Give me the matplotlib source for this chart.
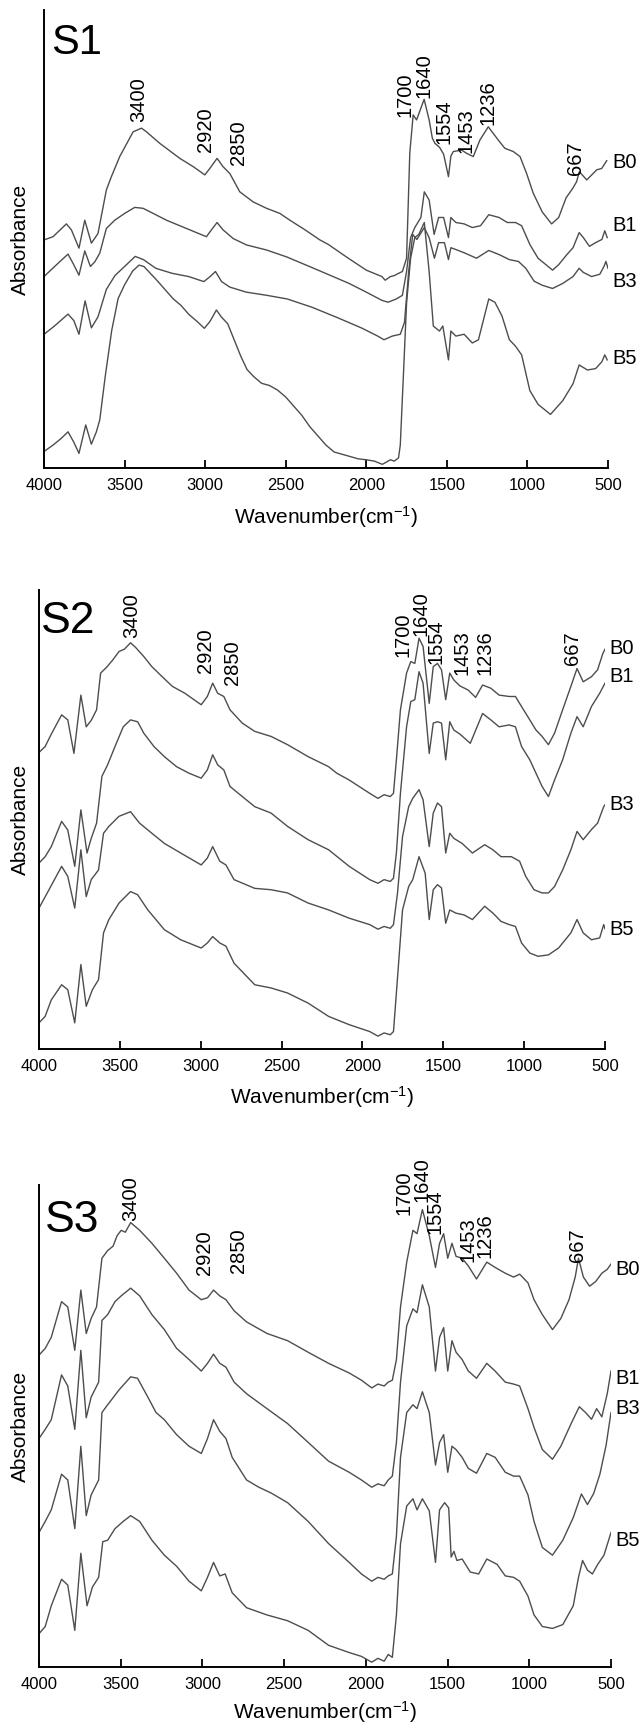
import matplotlib
matplotlib.use('Agg')
import matplotlib.pyplot as plt
from matplotlib.transforms import blended_transform_factory

plt.rcParams['font.family'] = ['Liberation Sans', 'DejaVu Sans']
plt.rcParams['mathtext.fontset'] = 'custom'
plt.rcParams['mathtext.rm'] = 'Liberation Sans'
plt.rcParams['mathtext.it'] = 'Liberation Sans:italic'
plt.rcParams['mathtext.bf'] = 'Liberation Sans:bold'

# ---------------- data ----------------
x_ticks = [4000, 3500, 3000, 2500, 2000, 1500, 1000, 500]
series_names = ['B0', 'B1', 'B3', 'B5']
panel_names = ['S1', 'S2', 'S3']
peak_labels = ['3400', '2920', '2850', '1700', '1640', '1554', '1453', '1236', '667']

# (wavenumber, absorbance a.u.)
S1_B0 = [(4000,0.498),(3944,0.505),(3861,0.533),(3830,0.520),(3783,0.480),(3747,0.541),(3706,0.491),(3665,0.512),
         (3613,0.607),(3582,0.636),(3530,0.680),(3447,0.734),(3395,0.742),(3364,0.734),(3282,0.709),(3157,0.676),
         (3074,0.658),(3002,0.640),(2971,0.654),(2926,0.676),(2889,0.658),(2847,0.643),(2785,0.603),(2702,0.581),
         (2619,0.567),(2537,0.556),(2474,0.541),(2380,0.520),(2288,0.498),(2235,0.488),(2120,0.460),(2000,0.432),
         (1903,0.418),(1883,0.410),(1850,0.418),(1827,0.420),(1800,0.425),(1776,0.429),(1750,0.458),(1730,0.688),
         (1709,0.771),(1688,0.760),(1641,0.805),(1610,0.760),(1590,0.720),(1574,0.709),(1545,0.700),(1520,0.685),
         (1490,0.636),(1475,0.681),(1460,0.691),(1408,0.694),(1377,0.687),(1336,0.680),(1295,0.716),(1243,0.745),
         (1181,0.716),(1140,0.698),(1088,0.691),(1046,0.680),(1005,0.643),(964,0.600),(908,0.559),(850,0.533),
         (806,0.547),(760,0.590),(720,0.610),(695,0.625),(678,0.647),(632,0.629),(570,0.651),(539,0.654),(508,0.671)]
S1_B1 = [(4000,0.418),(3934,0.440),(3851,0.467),(3820,0.447),(3783,0.421),(3747,0.474),(3712,0.440),(3685,0.450),
         (3654,0.469),(3613,0.523),(3561,0.541),(3499,0.556),(3437,0.569),(3385,0.567),(3323,0.556),(3240,0.541),
         (3116,0.523),(2992,0.505),(2961,0.520),(2926,0.536),(2889,0.520),(2826,0.501),(2743,0.487),(2619,0.476),
         (2495,0.461),(2299,0.432),(2107,0.403),(2000,0.384),(1903,0.366),(1865,0.362),(1814,0.369),(1776,0.377),
         (1750,0.429),(1725,0.503),(1699,0.525),(1661,0.547),(1640,0.603),(1610,0.585),(1579,0.510),(1551,0.547),
         (1520,0.547),(1490,0.503),(1475,0.547),(1444,0.536),(1393,0.533),(1342,0.525),(1291,0.529),(1240,0.553),
         (1176,0.547),(1125,0.536),(1074,0.536),(1036,0.529),(985,0.488),(934,0.458),(844,0.432),(806,0.444),
         (755,0.466),(717,0.481),(679,0.514),(653,0.503),(615,0.484),(577,0.492),(538,0.499),(520,0.518),(505,0.503)]
S1_B3 = [(4000,0.292),(3935,0.310),(3851,0.336),(3815,0.322),(3783,0.292),(3745,0.365),(3706,0.306),(3665,0.330),
         (3613,0.390),(3560,0.420),(3500,0.440),(3434,0.462),(3383,0.455),(3306,0.436),(3204,0.425),(3102,0.418),
         (3008,0.407),(2969,0.418),(2936,0.429),(2898,0.407),(2847,0.395),(2745,0.384),(2617,0.377),(2490,0.369),
         (2337,0.351),(2184,0.329),(2031,0.306),(1929,0.288),(1890,0.280),(1839,0.288),(1789,0.292),(1763,0.318),
         (1737,0.429),(1712,0.510),(1686,0.499),(1640,0.525),(1610,0.503),(1577,0.458),(1551,0.492),(1515,0.492),
         (1490,0.455),(1475,0.481),(1444,0.477),(1393,0.470),(1316,0.458),(1240,0.475),(1176,0.466),(1112,0.455),
         (1056,0.451),(1010,0.436),(959,0.408),(908,0.399),(844,0.392),(781,0.403),(717,0.418),(679,0.436),
         (653,0.427),(602,0.418),(551,0.423),(525,0.440),(513,0.451),(500,0.436)]
S1_B5 = [(4000,0.036),(3944,0.050),(3892,0.065),(3851,0.079),(3816,0.057),(3783,0.032),(3741,0.094),(3706,0.052),
         (3675,0.079),(3654,0.105),(3620,0.200),(3580,0.300),(3540,0.370),(3500,0.400),(3450,0.430),(3410,0.443),
         (3380,0.440),(3340,0.425),(3300,0.410),(3250,0.390),(3200,0.370),(3150,0.355),(3100,0.335),(3050,0.320),
         (3005,0.305),(2970,0.320),(2930,0.345),(2900,0.330),(2860,0.315),(2820,0.280),(2780,0.245),(2740,0.215),
         (2700,0.200),(2650,0.185),(2600,0.180),(2550,0.170),(2500,0.155),(2450,0.135),(2400,0.115),(2350,0.090),
         (2300,0.070),(2250,0.050),(2200,0.035),(2150,0.030),(2100,0.025),(2050,0.020),(2000,0.018),(1950,0.015),
         (1900,0.008),(1880,0.012),(1850,0.018),(1827,0.015),(1800,0.022),(1789,0.050),(1770,0.200),(1750,0.360),
         (1725,0.458),(1699,0.503),(1674,0.510),(1640,0.536),(1610,0.429),(1584,0.310),(1546,0.299),(1525,0.310),
         (1490,0.236),(1475,0.299),(1444,0.288),(1393,0.292),(1342,0.273),(1304,0.280),(1240,0.369),(1202,0.362),
         (1158,0.332),(1112,0.280),(1074,0.266),(1036,0.247),(985,0.169),(934,0.139),(857,0.117),(781,0.147),
         (717,0.184),(679,0.225),(628,0.214),(577,0.217),(538,0.232),(520,0.247),(505,0.236)]

S2_B0 = [(4000,0.646),(3962,0.659),(3924,0.686),(3860,0.728),(3822,0.717),(3784,0.644),(3741,0.771),(3708,0.702),
         (3677,0.716),(3644,0.739),(3619,0.819),(3581,0.832),(3543,0.848),(3505,0.866),(3472,0.871),(3434,0.885),
         (3403,0.875),(3352,0.855),(3302,0.833),(3238,0.811),(3175,0.790),(3098,0.775),(2997,0.750),(2959,0.768),
         (2926,0.797),(2895,0.775),(2857,0.768),(2819,0.739),(2743,0.710),(2666,0.692),(2565,0.681),(2463,0.663),
         (2336,0.637),(2209,0.615),(2159,0.601),(2082,0.586),(1955,0.557),(1904,0.546),(1866,0.554),(1828,0.550),
         (1808,0.557),(1790,0.630),(1765,0.739),(1727,0.819),(1701,0.844),(1676,0.840),(1650,0.895),(1625,0.877),
         (1587,0.753),(1562,0.833),(1536,0.840),(1511,0.826),(1485,0.761),(1460,0.819),(1435,0.804),(1397,0.791),
         (1346,0.782),(1300,0.766),(1257,0.793),(1206,0.786),(1155,0.771),(1092,0.768),(1054,0.768),(1016,0.746),
         (965,0.717),(927,0.695),(889,0.681),(850,0.663),(812,0.688),(762,0.739),(711,0.790),(673,0.829),
         (635,0.800),(584,0.811),(546,0.826),(513,0.862),(500,0.871)]
S2_B1 = [(4000,0.405),(3962,0.419),(3924,0.441),(3860,0.496),(3822,0.477),(3779,0.398),(3741,0.521),(3703,0.427),
         (3677,0.459),(3644,0.492),(3611,0.594),(3576,0.619),(3530,0.659),(3479,0.702),(3434,0.717),(3390,0.713),
         (3352,0.688),(3289,0.659),(3225,0.637),(3149,0.615),(3073,0.601),(2997,0.590),(2959,0.608),(2926,0.641),
         (2895,0.619),(2857,0.608),(2819,0.572),(2743,0.550),(2666,0.528),(2565,0.514),(2463,0.485),(2336,0.456),
         (2209,0.434),(2082,0.398),(1955,0.369),(1904,0.361),(1866,0.369),(1828,0.365),(1808,0.372),(1790,0.427),
         (1765,0.557),(1727,0.702),(1701,0.757),(1676,0.761),(1650,0.822),(1625,0.797),(1587,0.644),(1562,0.710),
         (1536,0.713),(1511,0.710),(1485,0.630),(1460,0.713),(1435,0.695),(1397,0.686),(1333,0.666),(1257,0.731),
         (1206,0.717),(1155,0.702),(1092,0.706),(1054,0.702),(1016,0.659),(965,0.630),(927,0.601),(889,0.572),
         (850,0.550),(812,0.586),(762,0.630),(711,0.688),(673,0.724),(635,0.702),(584,0.746),(533,0.775),(500,0.797)]
S2_B3 = [(4000,0.307),(3949,0.340),(3860,0.398),(3822,0.376),(3779,0.307),(3741,0.434),(3708,0.332),(3677,0.369),
         (3632,0.390),(3601,0.470),(3568,0.485),(3505,0.507),(3434,0.517),(3378,0.492),(3302,0.470),(3225,0.448),
         (3124,0.427),(2997,0.401),(2959,0.416),(2926,0.441),(2882,0.409),(2844,0.401),(2794,0.369),(2666,0.350),
         (2565,0.347),(2463,0.340),(2336,0.318),(2209,0.303),(2082,0.285),(1955,0.271),(1904,0.261),(1866,0.267),
         (1828,0.263),(1808,0.271),(1783,0.340),(1752,0.463),(1714,0.528),(1689,0.546),(1650,0.565),(1625,0.543),
         (1587,0.441),(1562,0.514),(1536,0.536),(1511,0.528),(1485,0.427),(1460,0.470),(1435,0.459),(1384,0.448),
         (1320,0.427),(1244,0.445),(1193,0.434),(1143,0.419),(1079,0.419),(1028,0.409),(990,0.376),(939,0.347),
         (889,0.340),(850,0.340),(812,0.354),(762,0.390),(711,0.434),(673,0.474),(635,0.456),(584,0.478),
         (546,0.492),(508,0.528),(500,0.532)]
S2_B5 = [(4000,0.057),(3962,0.071),(3924,0.107),(3860,0.140),(3822,0.129),(3779,0.057),(3741,0.184),(3708,0.093),
         (3670,0.129),(3632,0.151),(3601,0.253),(3568,0.282),(3505,0.318),(3434,0.343),(3390,0.336),(3327,0.303),
         (3225,0.260),(3124,0.238),(2997,0.220),(2959,0.231),(2926,0.245),(2882,0.231),(2844,0.224),(2794,0.187),
         (2666,0.140),(2565,0.133),(2463,0.122),(2336,0.100),(2209,0.071),(2082,0.053),(1955,0.038),(1904,0.028),
         (1866,0.035),(1828,0.031),(1808,0.038),(1790,0.122),(1752,0.303),(1714,0.354),(1689,0.369),(1650,0.419),
         (1612,0.383),(1587,0.282),(1562,0.347),(1536,0.358),(1511,0.351),(1485,0.274),(1460,0.303),(1422,0.296),
         (1371,0.292),(1320,0.282),(1244,0.311),(1193,0.296),(1143,0.278),(1092,0.271),(1054,0.267),(1016,0.231),
         (965,0.209),(914,0.202),(850,0.205),(787,0.220),(711,0.253),(673,0.282),(635,0.253),(584,0.238),
         (533,0.242),(508,0.271),(500,0.262)]

S3_B0 = [(4000,0.647),(3962,0.661),(3925,0.684),(3862,0.758),(3824,0.747),(3781,0.657),(3744,0.782),(3711,0.692),
         (3681,0.723),(3648,0.747),(3615,0.848),(3580,0.864),(3547,0.873),(3522,0.895),(3497,0.906),(3472,0.902),
         (3439,0.922),(3384,0.906),(3309,0.879),(3233,0.848),(3158,0.817),(3082,0.782),(3007,0.762),(2969,0.766),
         (2932,0.782),(2894,0.770),(2856,0.762),(2806,0.739),(2730,0.716),(2605,0.692),(2479,0.677),(2353,0.653),
         (2228,0.630),(2102,0.610),(2027,0.595),(1964,0.579),(1926,0.587),(1888,0.583),(1863,0.591),(1838,0.595),
         (1813,0.638),(1788,0.747),(1750,0.840),(1712,0.906),(1687,0.899),(1654,0.949),(1612,0.895),(1574,0.829),
         (1549,0.879),(1524,0.899),(1499,0.848),(1473,0.879),(1448,0.852),(1411,0.848),(1373,0.832),(1323,0.805),
         (1260,0.840),(1209,0.829),(1147,0.817),(1096,0.809),(1059,0.815),(1008,0.797),(971,0.762),(920,0.731),
         (858,0.700),(807,0.723),(757,0.762),(719,0.809),(699,0.848),(669,0.809),(631,0.790),(593,0.800),
         (556,0.817),(523,0.825),(500,0.836)]
S3_B1 = [(4000,0.474),(3962,0.493),(3925,0.513),(3862,0.606),(3824,0.583),(3781,0.493),(3744,0.657),(3711,0.517),
         (3681,0.560),(3635,0.591),(3615,0.719),(3580,0.731),(3535,0.758),(3497,0.770),(3439,0.786),(3384,0.770),
         (3309,0.731),(3233,0.700),(3158,0.661),(3082,0.638),(3007,0.614),(2969,0.630),(2932,0.649),(2894,0.630),
         (2856,0.622),(2806,0.591),(2730,0.567),(2605,0.536),(2479,0.505),(2353,0.466),(2228,0.427),(2102,0.404),
         (2027,0.388),(1964,0.373),(1926,0.380),(1888,0.376),(1863,0.388),(1838,0.396),(1813,0.466),(1788,0.591),
         (1750,0.708),(1712,0.743),(1687,0.735),(1654,0.793),(1612,0.747),(1574,0.614),(1549,0.684),(1524,0.704),
         (1499,0.614),(1473,0.677),(1448,0.653),(1411,0.638),(1373,0.614),(1323,0.599),(1260,0.630),(1209,0.614),
         (1147,0.591),(1096,0.587),(1059,0.583),(1008,0.536),(971,0.497),(920,0.451),(858,0.431),(807,0.458),
         (744,0.505),(694,0.540),(656,0.528),(619,0.514),(588,0.536),(556,0.519),(523,0.567),(500,0.614)]
S3_B3 = [(4000,0.279),(3962,0.302),(3925,0.326),(3862,0.400),(3824,0.388),(3781,0.287),(3744,0.458),(3711,0.314),
         (3681,0.357),(3635,0.388),(3615,0.528),(3580,0.544),(3510,0.575),(3439,0.602),(3397,0.599),(3334,0.560),
         (3284,0.528),(3233,0.513),(3158,0.482),(3082,0.458),(3007,0.443),(2969,0.474),(2932,0.513),(2894,0.489),
         (2856,0.474),(2818,0.435),(2730,0.388),(2655,0.373),(2580,0.361),(2479,0.341),(2353,0.302),(2228,0.256),
         (2102,0.217),(2027,0.193),(1964,0.178),(1926,0.186),(1888,0.182),(1863,0.189),(1838,0.193),(1813,0.271),
         (1788,0.435),(1750,0.528),(1712,0.544),(1687,0.536),(1654,0.571),(1612,0.528),(1574,0.419),(1549,0.466),
         (1524,0.482),(1499,0.404),(1473,0.458),(1448,0.451),(1411,0.435),(1373,0.412),(1323,0.402),(1260,0.443),
         (1209,0.435),(1147,0.404),(1096,0.396),(1059,0.396),(1008,0.357),(971,0.302),(920,0.248),(858,0.232),
         (795,0.263),(731,0.310),(681,0.359),(644,0.337),(606,0.360),(568,0.400),(530,0.460),(500,0.528)]
S3_B5 = [(4000,0.069),(3962,0.084),(3925,0.127),(3862,0.182),(3824,0.170),(3781,0.076),(3744,0.236),(3706,0.127),
         (3673,0.166),(3635,0.186),(3610,0.260),(3580,0.263),(3535,0.287),(3485,0.302),(3439,0.314),(3384,0.302),
         (3309,0.263),(3233,0.232),(3158,0.209),(3082,0.178),(3007,0.158),(2969,0.186),(2932,0.217),(2894,0.189),
         (2861,0.193),(2818,0.154),(2730,0.123),(2605,0.108),(2479,0.096),(2353,0.076),(2228,0.045),(2102,0.030),
         (2027,0.022),(1964,0.010),(1926,0.018),(1888,0.012),(1863,0.026),(1838,0.020),(1813,0.108),(1788,0.256),
         (1750,0.334),(1712,0.349),(1687,0.326),(1654,0.349),(1612,0.324),(1574,0.217),(1549,0.326),(1518,0.341),
         (1493,0.330),(1478,0.228),(1461,0.240),(1443,0.221),(1411,0.224),(1361,0.197),(1310,0.193),(1260,0.224),
         (1197,0.213),(1147,0.189),(1096,0.186),(1059,0.178),(1008,0.147),(971,0.108),(920,0.084),(858,0.080),
         (795,0.088),(731,0.127),(699,0.186),(674,0.221),(644,0.201),(614,0.193),(581,0.213),(543,0.232),(500,0.279)]

panels_data = [[S1_B0, S1_B1, S1_B3, S1_B5],
               [S2_B0, S2_B1, S2_B3, S2_B5],
               [S3_B0, S3_B1, S3_B3, S3_B5]]

# ---------------- layout ----------------
W, H = 644, 1728
axes_px = [(44, 608, 10, 468), (39, 605, 590, 1049), (39, 611, 1185, 1667)]  # left, right, top, bottom
peak_pos = [
    [(3413,0.755),(3000,0.690),(2796,0.662),(1758,0.766),(1640,0.807),(1520,0.707),(1380,0.688),(1245,0.748),(704,0.640)],
    [(3428,0.895),(2971,0.819),(2806,0.793),(1752,0.855),(1636,0.900),(1546,0.838),(1384,0.815),(1244,0.815),(698,0.837)],
    [(3439,0.926),(2989,0.813),(2781,0.817),(1768,0.938),(1658,0.965),(1574,0.899),(1373,0.840),(1272,0.848),(707,0.840)],
]
name_pos = [[0.667, 0.529, 0.407, 0.240],
            [0.873, 0.811, 0.532, 0.260],
            [0.825, 0.599, 0.536, 0.263]]
panel_label_pos = [(0.012, 0.905), (0.004, 0.906), (0.010, 0.903)]
panel_label_size = [30, 32, 32]
xlabel_y = [517, 1097, 1712]
line_color = '#4d4d4d'

fig = plt.figure(figsize=(W/100, H/100), dpi=100)
for i, (l, r, t, b) in enumerate(axes_px):
    ax = fig.add_axes([l/W, 1 - b/H, (r-l)/W, (b-t)/H])
    for curve in panels_data[i]:
        xs = [p[0] for p in curve]
        ys = [p[1] for p in curve]
        ax.plot(xs, ys, color=line_color, lw=1.0, solid_joinstyle='round')
    ax.set_xlim(4000, 500)
    ax.set_ylim(0, 1)
    ax.set_xticks(x_ticks)
    ax.set_xticklabels([str(v) for v in x_ticks])
    ax.set_yticks([])
    for s in ['top', 'right']:
        ax.spines[s].set_visible(False)
    for s in ['left', 'bottom']:
        ax.spines[s].set_linewidth(1.4)
        ax.spines[s].set_color('black')
    ax.tick_params(axis='x', direction='in', length=6, width=1.3, labelsize=12, pad=7)
    for txt, (px, py) in zip(peak_labels, peak_pos[i]):
        ax.text(px, py, txt, rotation=90, ha='center', va='bottom', fontsize=14.5)
    tr = blended_transform_factory(ax.transAxes, ax.transData)
    for name, ny in zip(series_names, name_pos[i]):
        ax.text(1.008, ny, name, transform=tr, ha='left', va='center', fontsize=14.5)
    px, py = panel_label_pos[i]
    ax.text(px, py, panel_names[i], transform=ax.transAxes, ha='left', va='baseline',
            fontsize=panel_label_size[i])
    fig.text(20/W, 1 - (t+b)/2/H, 'Absorbance', rotation=90, ha='center', va='center', fontsize=15)
    fig.text((l+r)/2/W, 1 - xlabel_y[i]/H, 'Wavenumber(cm$^{-1}$)', ha='center', va='center', fontsize=15)

fig.savefig('out.png', dpi=100)
